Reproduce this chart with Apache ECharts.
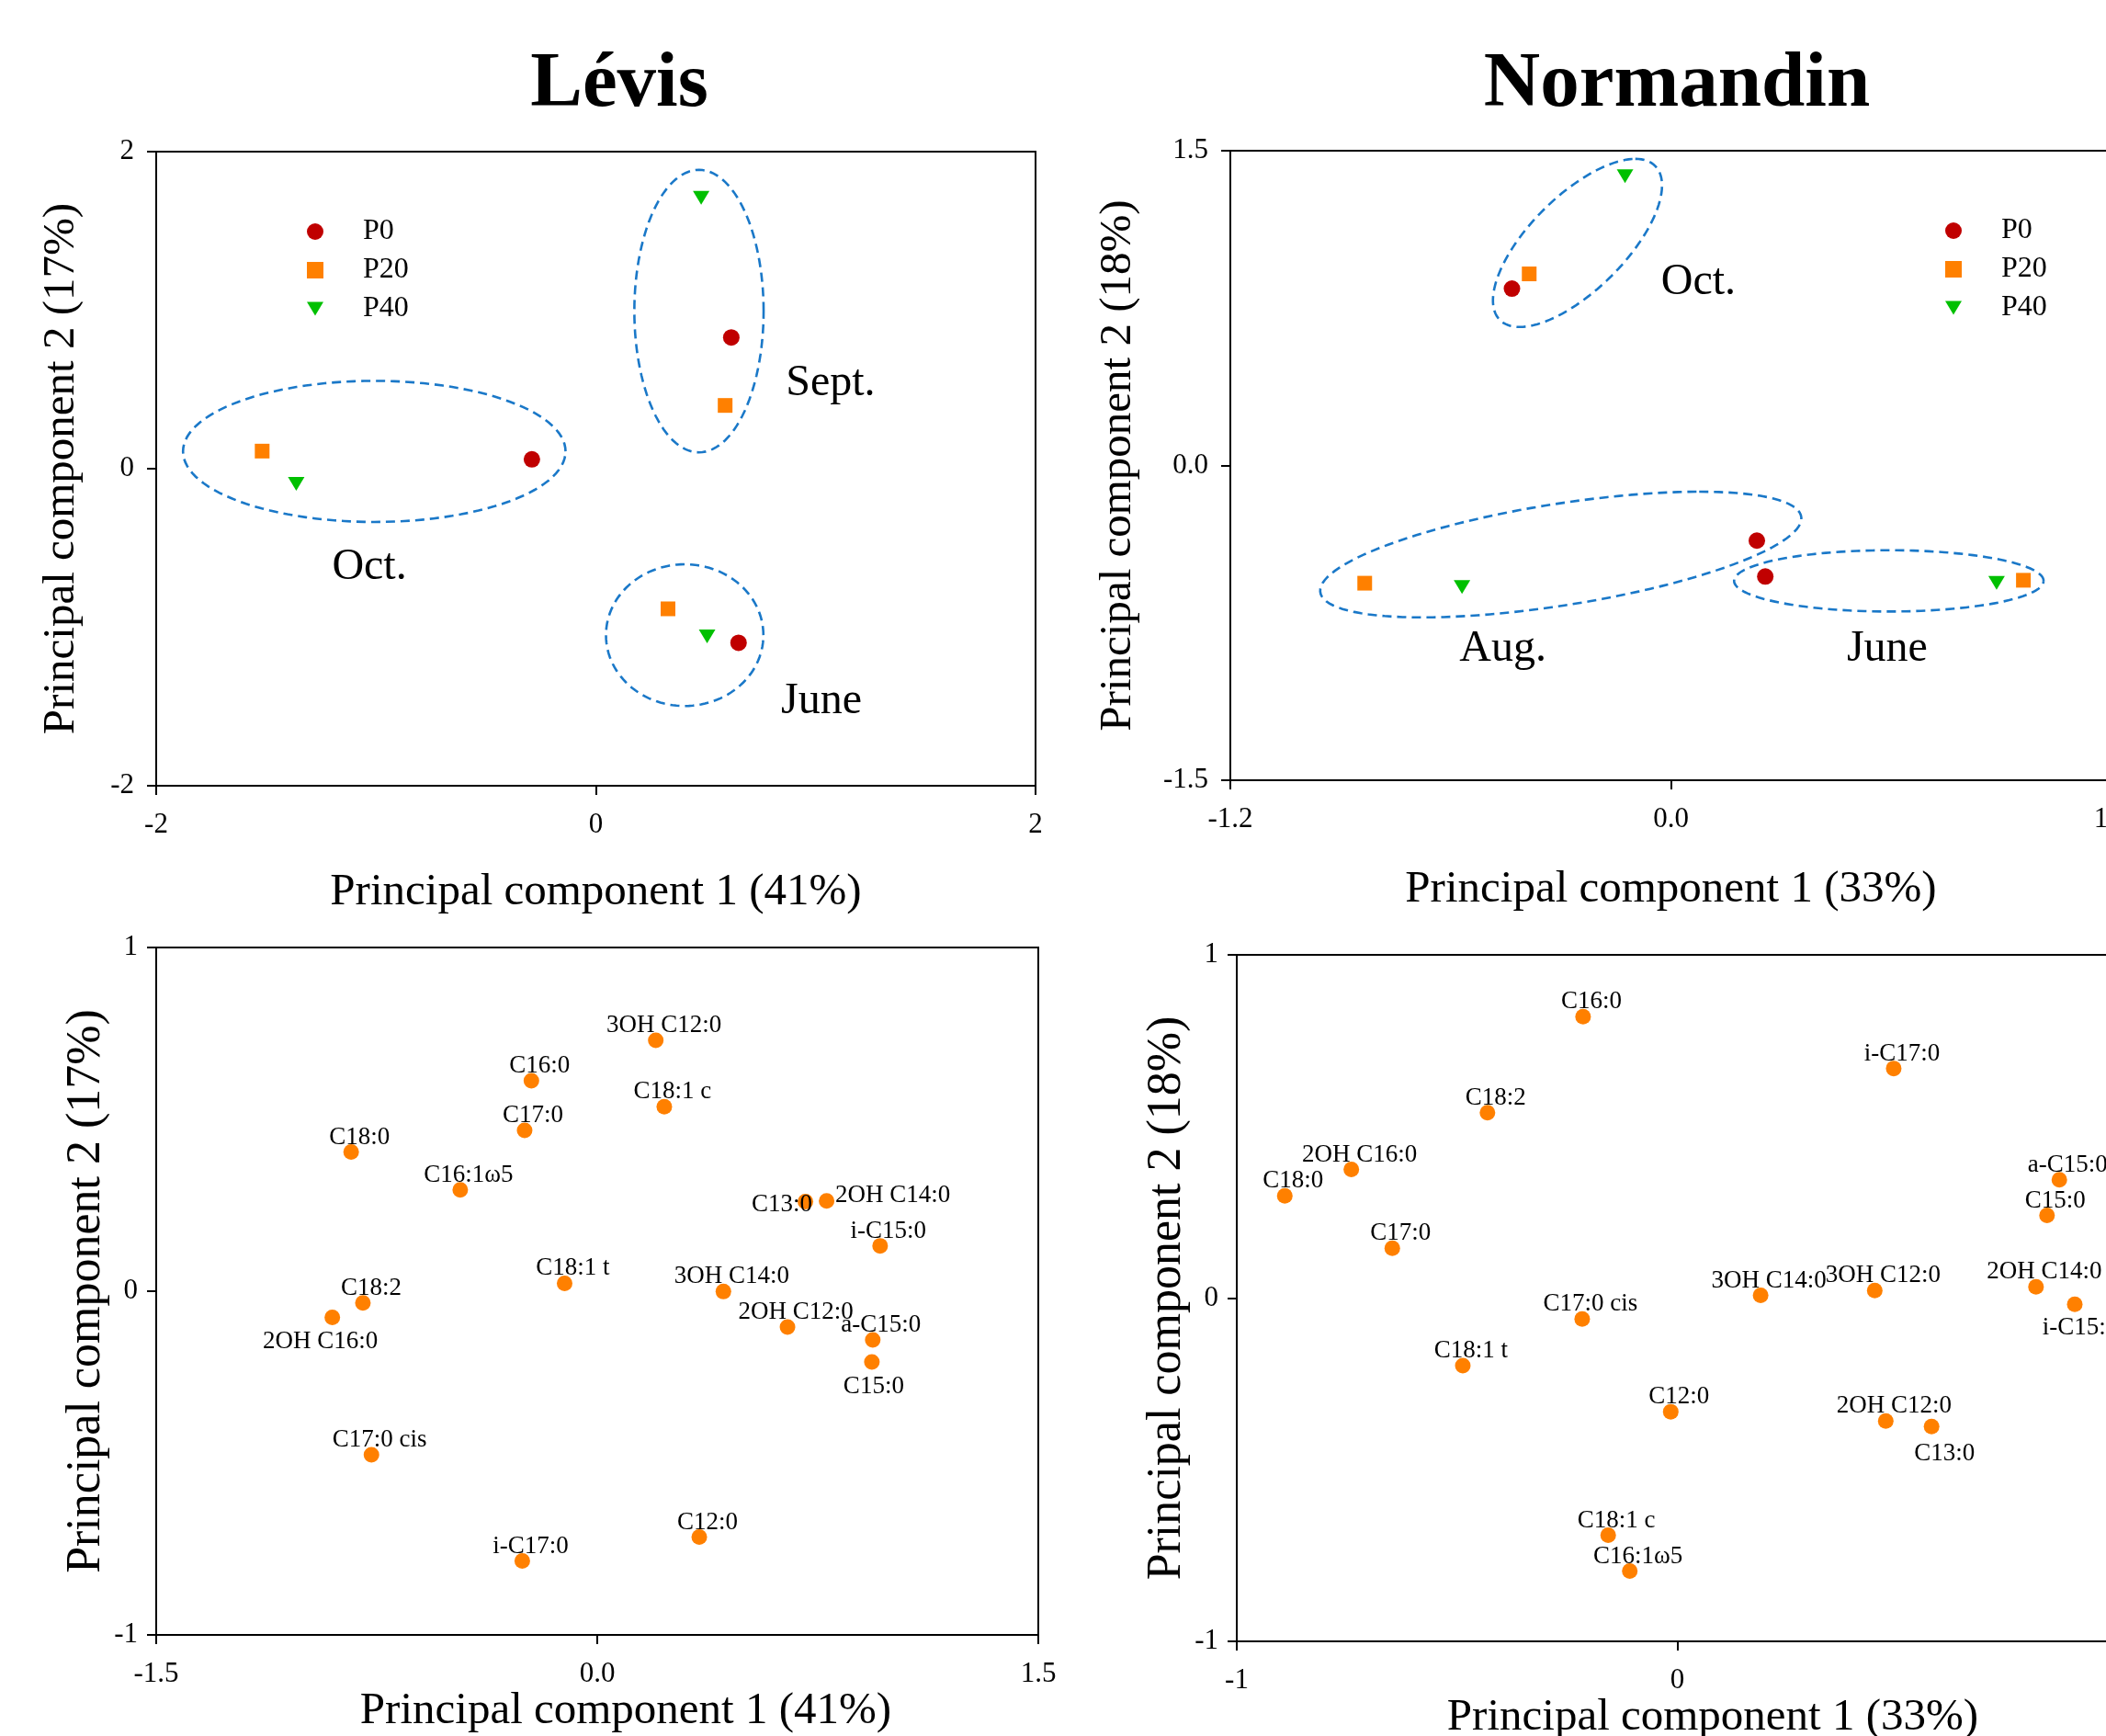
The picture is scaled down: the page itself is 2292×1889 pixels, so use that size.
<!DOCTYPE html>
<html>
<head>
<meta charset="utf-8">
<title>PCA Lévis / Normandin</title>
<script src="https://cdn.jsdelivr.net/npm/echarts/dist/echarts.min.js"></script>
<style>
  html, body { margin: 0; padding: 0; background: #fff; }
  #chart { width: 2292px; height: 1889px; }
</style>
</head>
<body>
<div id="chart"></div>
<script>
// ---- data: sample scores (PC1, PC2) ----
const treatments = ['P0', 'P20', 'P40']

const levisSeasons = ['Sept.', 'Oct.', 'June']
const levisP0 = [[0.616, 0.828], [-0.291, 0.059], [0.649, -1.098]]
const levisP20 = [[0.588, 0.399], [-1.518, 0.111], [0.328, -0.884]]
const levisP40 = [[0.479, 1.708], [-1.363, -0.095], [0.506, -1.058]]
// where each season name starts
const levisSeasonAt = [[0.864, 0.536], [-1.2, -0.621], [0.842, -1.468]]
// season groups: centre x, centre y, then two conjugate half-axes (data units)
const levisGroups = [
  [0.469, 0.994, 0.294, 0, 0, 0.891],
  [-1.008, 0.109, 0.870, 0, 0, 0.445],
  [0.404, -1.05, 0.358, 0, 0, 0.447],
]

const normSeasons = ['Oct.', 'Aug.', 'June']
const normP0 = [[-0.433, 0.843], [0.234, -0.358], [0.257, -0.529]]
const normP20 = [[-0.386, 0.913], [-0.834, -0.561], [0.96, -0.547]]
const normP40 = [[-0.125, 1.378], [-0.569, -0.579], [0.887, -0.559]]
const normSeasonAt = [[-0.027, 0.871], [-0.576, -0.877], [0.479, -0.877]]
const normGroups = [
  [-0.2545, 1.0605, 0.1575, 0.4005, 0.168, 0],
  [-0.300, -0.4245, 0.377, 0.2995, 0.536, 0],
  [0.5935, -0.55, 0.4215, 0, 0, 0.146],
]

// ---- data: fatty acid loadings ----
const levisAcids = ['3OH C12:0', 'C16:0', 'C18:1 c', 'C17:0', 'C18:0', 'C16:1ω5', 'C13:0', '2OH C14:0',
  'i-C15:0', 'C18:1 t', '3OH C14:0', '2OH C12:0', 'a-C15:0', 'C15:0', 'C18:2', '2OH C16:0',
  'C17:0 cis', 'C12:0', 'i-C17:0']
const levisPC1 = [0.199, -0.224, 0.228, -0.247, -0.837, -0.466, 0.708, 0.780,
  0.962, -0.111, 0.429, 0.647, 0.937, 0.934, -0.797, -0.901,
  -0.768, 0.347, -0.255]
const levisPC2 = [0.730, 0.612, 0.537, 0.468, 0.405, 0.295, 0.261, 0.263,
  0.132, 0.023, -0.001, -0.104, -0.142, -0.206, -0.034, -0.076,
  -0.476, -0.715, -0.785]

const normAcids = ['C16:0', 'i-C17:0', 'C18:2', '2OH C16:0', 'C18:0', 'a-C15:0', 'C15:0', 'C17:0',
  '3OH C14:0', '3OH C12:0', '2OH C14:0', 'i-C15:0', 'C17:0 cis', 'C18:1 t', 'C12:0', '2OH C12:0',
  'C13:0', 'C18:1 c', 'C16:1ω5']
const normPC1 = [-0.214, 0.491, -0.431, -0.740, -0.891, 0.867, 0.839, -0.647,
  0.189, 0.448, 0.814, 0.902, -0.216, -0.487, -0.015, 0.473,
  0.577, -0.157, -0.108]
const normPC2 = [0.820, 0.669, 0.540, 0.375, 0.298, 0.345, 0.241, 0.145,
  0.008, 0.022, 0.033, -0.018, -0.061, -0.197, -0.331, -0.358,
  -0.374, -0.691, -0.795]

// ---- styling ----
const serif = '"Liberation Serif", "Times New Roman", serif'
const colors = { P0: '#c00000', P20: '#ff8000', P40: '#00c000' }
const symbols = { P0: 'circle', P20: 'rect', P40: 'path://M0,0L10,0L5,8.4Z' }
const sizes = { P0: 18, P20: 16, P40: [18, 15] }

// labels that do not sit above their dot
const levisPlace = {
  '2OH C16:0': { position: 'bottom', distance: 4, offset: [-13, 0] },
  'C15:0': { position: 'bottom', distance: 5, offset: [2, 0] },
  'C13:0': { position: 'left', distance: -16, offset: [0, 4] },
  '2OH C14:0': { position: 'right', distance: 1, offset: [0, -6] },
}
const normPlace = {
  'i-C15:0': { position: 'bottom', distance: 4, offset: [6, 0] },
  'C13:0': { position: 'bottom', distance: 8, offset: [14, 0] },
}

function axis(grid, min, max, step, digits, name, gap, size, margin, pad) {
  return {
    type: 'value', gridIndex: grid, min: min, max: max, interval: step,
    name: name, nameLocation: 'middle', nameGap: gap,
    nameTextStyle: { fontFamily: serif, fontSize: size, color: '#000', padding: pad || 0 },
    axisLine: { show: true, onZero: false, lineStyle: { color: '#000', width: 2 } },
    axisTick: { show: true, inside: false, length: 10, lineStyle: { color: '#000', width: 2 } },
    axisLabel: { color: '#000', fontFamily: serif, fontSize: 31, margin: margin,
      formatter: (v) => v.toFixed(digits) },
    splitLine: { show: false },
  }
}

function grid(left, top, width, height) {
  return { left: left, top: top, width: width, height: height, show: true,
    borderColor: '#000', borderWidth: 2, backgroundColor: 'transparent',
    containLabel: false, outerBoundsMode: 'none' }
}

function ellipses(idx, groups) {
  return {
    type: 'custom', xAxisIndex: idx, yAxisIndex: idx, clip: false, silent: true, z: 1,
    dimensions: ['cx', 'cy', 'ux', 'uy', 'vx', 'vy'],
    encode: { x: 0, y: 1 },
    data: groups,
    renderItem: (params, api) => {
      const c = [api.value(0), api.value(1)]
      const u = [api.value(2), api.value(3)]
      const v = [api.value(4), api.value(5)]
      const pts = []
      for (let i = 0; i <= 120; i++) {
        const t = (i / 120) * Math.PI * 2
        pts.push(api.coord([
          c[0] + u[0] * Math.cos(t) + v[0] * Math.sin(t),
          c[1] + u[1] * Math.cos(t) + v[1] * Math.sin(t),
        ]))
      }
      return { type: 'polyline', shape: { points: pts },
        style: { fill: null, stroke: '#1a78c8', lineWidth: 2.6, lineDash: [10, 6] } }
    },
  }
}

function samples(idx, name, points) {
  return { type: 'scatter', name: name, xAxisIndex: idx, yAxisIndex: idx, z: 3,
    symbol: symbols[name], symbolSize: sizes[name], symbolKeepAspect: false,
    itemStyle: { color: colors[name], opacity: 1 }, data: points }
}

function seasonNames(idx, names, at) {
  return { type: 'scatter', xAxisIndex: idx, yAxisIndex: idx, symbolSize: 0, silent: true,
    itemStyle: { color: '#fff', opacity: 1 },
    label: { show: true, position: 'right', distance: 0, formatter: '{b}',
      fontFamily: serif, fontSize: 48, color: '#000', opacity: 1 },
    data: names.map((n, i) => ({ name: n, value: at[i] })) }
}

function loadings(idx, names, xs, ys, place) {
  return { type: 'scatter', xAxisIndex: idx, yAxisIndex: idx, symbol: 'circle', symbolSize: 17,
    itemStyle: { color: '#ff8000', opacity: 1 },
    label: { show: true, position: 'top', distance: -6, offset: [9, 0], formatter: '{b}',
      fontFamily: serif, fontSize: 27, color: '#000' },
    data: names.map((n, i) => ({ name: n, value: [xs[i], ys[i]], label: place[n] || {} })) }
}

function legend(left, top) {
  return { data: treatments, orient: 'vertical', left: left, top: top, itemGap: 10,
    itemWidth: 18, itemHeight: 18, selectedMode: false,
    textStyle: { fontFamily: serif, fontSize: 32, color: '#000', lineHeight: 32,
      padding: [0, 0, 0, 38] } }
}

let myChart = echarts.init(document.getElementById('chart'), null, { renderer: 'canvas' })

myChart.setOption({
  animation: false,
  backgroundColor: '#fff',
  graphic: [
    { type: 'text', x: 674, y: 93, style: { text: 'Lévis', textAlign: 'center',
      textVerticalAlign: 'middle', font: 'bold 85px ' + serif, fill: '#000' } },
    { type: 'text', x: 1825, y: 93, style: { text: 'Normandin', textAlign: 'center',
      textVerticalAlign: 'middle', font: 'bold 85px ' + serif, fill: '#000' } },
  ],
  legend: [legend(329, 231), legend(2112, 230)],
  grid: [
    grid(170, 165, 957, 690),
    grid(1339, 164, 959, 685),
    grid(170, 1031, 960, 748),
    grid(1346, 1039, 959, 747),
  ],
  xAxis: [
    axis(0, -2, 2, 2, 0, 'Principal component 1 (41%)', 92, 49, 27),
    axis(1, -1.2, 1.2, 1.2, 1, 'Principal component 1 (33%)', 95, 49, 27),
    axis(2, -1.5, 1.5, 1.5, 1, 'Principal component 1 (41%)', 58, 49, 27, [0, 0, 0, 62]),
    axis(3, -1, 1, 1, 0, 'Principal component 1 (33%)', 58, 49, 27, [0, 0, 0, 77]),
  ],
  yAxis: [
    axis(0, -2, 2, 2, 0, 'Principal component 2 (17%)', 78, 49, 24),
    axis(1, -1.5, 1.5, 1.5, 1, 'Principal component 2 (18%)', 97, 49, 24),
    axis(2, -1, 1, 1, 0, 'Principal component 2 (17%)', 38, 52, 20),
    axis(3, -1, 1, 1, 0, 'Principal component 2 (18%)', 29, 52, 20),
  ],
  series: [
    ellipses(0, levisGroups),
    samples(0, 'P0', levisP0),
    samples(0, 'P20', levisP20),
    samples(0, 'P40', levisP40),
    seasonNames(0, levisSeasons, levisSeasonAt),

    ellipses(1, normGroups),
    samples(1, 'P0', normP0),
    samples(1, 'P20', normP20),
    samples(1, 'P40', normP40),
    seasonNames(1, normSeasons, normSeasonAt),

    loadings(2, levisAcids, levisPC1, levisPC2, levisPlace),
    loadings(3, normAcids, normPC1, normPC2, normPlace),
  ],
})
</script>
</body>
</html>
